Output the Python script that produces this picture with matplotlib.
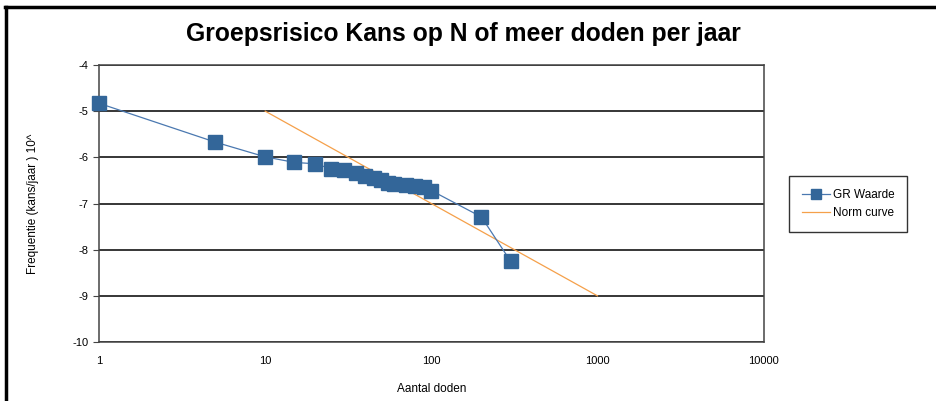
import matplotlib.pyplot as plt
from matplotlib.ticker import FixedLocator, NullLocator, FixedFormatter
from matplotlib.lines import Line2D

plt.rcParams['font.family'] = ['Liberation Sans', 'DejaVu Sans']
plt.rcParams['axes.unicode_minus'] = False

# GR Waarde (N, log10 frequentie)
gr_n = [1, 5, 10, 15, 20, 25, 30, 35, 40, 45, 50, 55, 60, 70, 80, 90, 100, 200, 300]
gr_f = [-4.83, -5.67, -5.99, -6.11, -6.14, -6.25, -6.28, -6.33, -6.40, -6.45,
        -6.50, -6.55, -6.57, -6.60, -6.62, -6.65, -6.72, -7.29, -8.25]

# Norm curve
norm_n = [10, 1000]
norm_f = [-5, -9]

x_ticks = [1, 10, 100, 1000, 10000]
x_labels = ['1', '10', '100', '1000', '10000']
y_ticks = [-10, -9, -8, -7, -6, -5, -4]

fig = plt.figure(figsize=(9.37, 4.01), dpi=100)
ax = fig.add_axes([0.1057, 0.147, 0.7093, 0.691])

ax.plot(gr_n, gr_f, color='#4a78b0', lw=0.9, marker='s', markersize=10,
        markerfacecolor='#336699', markeredgecolor='#336699', zorder=3,
        label='GR Waarde', clip_on=False)
ax.plot(norm_n, norm_f, color='#f5a04a', lw=0.9, zorder=2, label='Norm curve')

ax.set_xscale('log')
ax.set_xlim(1, 10000)
ax.set_ylim(-10, -4)
ax.xaxis.set_major_locator(FixedLocator(x_ticks))
ax.xaxis.set_major_formatter(FixedFormatter(x_labels))
ax.xaxis.set_minor_locator(NullLocator())
ax.set_yticks(y_ticks)
ax.tick_params(axis='x', length=0, labelsize=8, pad=10)
ax.tick_params(axis='y', length=4, labelsize=8, color='#444444')
for y in y_ticks:
    ax.axhline(y, color='black', lw=1.1, zorder=1)
for s in ax.spines.values():
    s.set_color('#444444')
    s.set_linewidth(1.1)

ax.set_xlabel('Aantal doden', fontsize=8.5, labelpad=12)
ax.set_ylabel('Frequentie (kans/jaar ) 10^', fontsize=8.5, labelpad=24)
fig.text(0.495, 0.915, 'Groepsrisico Kans op N of meer doden per jaar',
         ha='center', va='center', fontsize=17.8, fontweight='bold')

handles = [Line2D([], [], color='#4a78b0', lw=0.9, marker='s', markersize=7,
                  markerfacecolor='#336699', markeredgecolor='#336699'),
           Line2D([], [], color='#f5a04a', lw=0.9)]
leg = fig.legend(handles, ['GR Waarde', 'Norm curve'], loc='upper left',
                 bbox_to_anchor=(0.842, 0.56), fontsize=8.5, frameon=True,
                 fancybox=False, borderpad=1.1, handlelength=2.4,
                 handletextpad=0.2, labelspacing=0.5, borderaxespad=0)
leg.get_frame().set_edgecolor('black')
leg.get_frame().set_linewidth(1.0)

# outer border (top and left)
fig.add_artist(Line2D([0.005, 1], [0.983, 0.983], color='black', lw=2.5,
                      transform=fig.transFigure))
fig.add_artist(Line2D([0.006, 0.006], [0, 0.983], color='black', lw=2.5,
                      transform=fig.transFigure))

fig.savefig('out.png', dpi=100)
